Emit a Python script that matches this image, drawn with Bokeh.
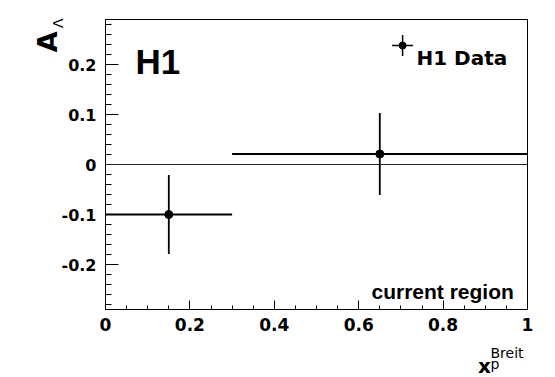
import math
from bokeh.plotting import figure
from bokeh.models import Range1d, FixedTicker, Label, Span, ColumnDataSource
from bokeh.core.properties import value
from bokeh.embed import file_html
from bokeh.resources import INLINE

# ---- data ----
x_centers = [0.15, 0.65]
x_low = [0.0, 0.3]
x_high = [0.3, 1.0]
asym = [-0.100, 0.021]
asym_err = [0.079, 0.082]

x_ticks = [0, 0.2, 0.4, 0.6, 0.8, 1.0]
x_tick_labels = ["0", "0.2", "0.4", "0.6", "0.8", "1"]
y_ticks = [-0.2, -0.1, 0, 0.1, 0.2]
y_tick_labels = ["-0.2", "-0.1", "0", "0.1", "0.2"]

legend_label = "H1 Data"
experiment = "H1"
region_text = "current region"

# ---- layout ----
W, H = 555, 377
L, R, T, B = 105, 28, 19, 68
FW, FH = W - L - R, H - T - B
X0, X1 = 0.0, 1.0
Y0, Y1 = -0.29, 0.29

src = ColumnDataSource(dict(
    x=x_centers, xl=x_low, xh=x_high, y=asym,
    yl=[a - e for a, e in zip(asym, asym_err)],
    yh=[a + e for a, e in zip(asym, asym_err)],
))

p = figure(width=W, height=H, x_range=Range1d(X0, X1), y_range=Range1d(Y0, Y1),
           output_backend="svg", toolbar_location=None,
           min_border_left=L, min_border_right=R, min_border_top=T, min_border_bottom=B)
p.title.visible = False
p.xgrid.visible = False
p.ygrid.visible = False
p.background_fill_color = "white"
p.border_fill_color = "white"
p.outline_line_color = "black"
p.outline_line_width = 1

xminor = [i * 0.05 for i in range(0, 21)]
yminor = [round(-0.28 + i * 0.02, 2) for i in range(0, 29)]
p.xaxis.ticker = FixedTicker(ticks=x_ticks, minor_ticks=xminor)
p.yaxis.ticker = FixedTicker(ticks=y_ticks, minor_ticks=yminor)
p.xaxis.major_label_overrides = {t: s for t, s in zip(x_ticks, x_tick_labels)}
p.yaxis.major_label_overrides = {t: s for t, s in zip(y_ticks, y_tick_labels)}

for ax in (p.xaxis[0], p.yaxis[0]):
    ax.axis_line_color = "black"
    ax.axis_line_width = 1
    ax.major_tick_line_color = "black"
    ax.minor_tick_line_color = "black"
    ax.major_tick_out = 0
    ax.minor_tick_out = 0
    ax.major_label_text_font = "DejaVu Sans"
    ax.major_label_text_font_style = "bold"
    ax.major_label_text_color = "black"

p.xaxis.major_tick_in = 9
p.xaxis.minor_tick_in = 4
p.xaxis.major_label_text_font_size = "17px"
p.xaxis.major_label_standoff = 8
p.yaxis.major_tick_in = 13
p.yaxis.minor_tick_in = 6
p.yaxis.major_label_text_font_size = "16px"
p.yaxis.major_label_standoff = 9

# zero line
p.add_layout(Span(location=0, dimension="width", line_color="#222222", line_width=1))

# error bars and points
p.segment(x0="xl", y0="y", x1="xh", y1="y", source=src, line_color="black", line_width=1.8)
p.segment(x0="x", y0="yl", x1="x", y1="yh", source=src, line_color="black", line_width=1.8)
p.scatter(x="x", y="y", source=src, size=8, marker="circle", fill_color="black", line_color="black")

# legend key (annotation)
KEY_X, KEY_Y = 0.704, 0.238
p.scatter(x=[KEY_X], y=[KEY_Y], marker="cross", size=21, line_color="black", line_width=1.5)
p.scatter(x=[KEY_X], y=[KEY_Y], marker="circle", size=7, fill_color="black", line_color="black")


def px2data(cx, cy):
    return (X0 + (cx - L) / FW * (X1 - X0), Y1 - (cy - T) / FH * (Y1 - Y0))


def lab(text, cx, cy, font, size, bold=True):
    x, y = px2data(cx, cy)
    p.add_layout(Label(x=x, y=y, x_units="data", y_units="data",
                       text=text, text_font=font, text_font_size=size,
                       text_font_style="bold" if bold else "normal",
                       text_color="black", text_align="left", text_baseline="alphabetic"))


def outer_text(text, cx, cy, font, size, bold=True, angle=0.0):
    x, y = px2data(cx, cy)
    p.text(x=[x], y=[y], text=[text], text_font=value(font), text_font_size=value(size),
           text_font_style="bold" if bold else "normal", text_color="black",
           text_align="left", text_baseline="alphabetic", angle=angle, level="overlay")


lab(experiment, 135, 60.7, "Liberation Sans", "35px")
lab(legend_label, 416, 57.7, "DejaVu Sans", "20px")
lab(region_text, 371, 290.7, "Liberation Sans", "21px")
# y axis title A_Lambda
outer_text("A", 46.5, 51.7, "DejaVu Sans", "27px", angle=math.pi / 2)
outer_text("\u039b", 57, 27.5, "DejaVu Sans", "14px", bold=False, angle=math.pi / 2)
# x axis title x_p^Breit
outer_text("x", 477.5, 365, "DejaVu Sans", "20px")
outer_text("p", 490, 363.5, "DejaVu Sans", "14px", bold=False)
outer_text("Breit", 490, 352.7, "DejaVu Sans", "14px", bold=False)

open("out.html", "w").write(file_html(p, INLINE))
